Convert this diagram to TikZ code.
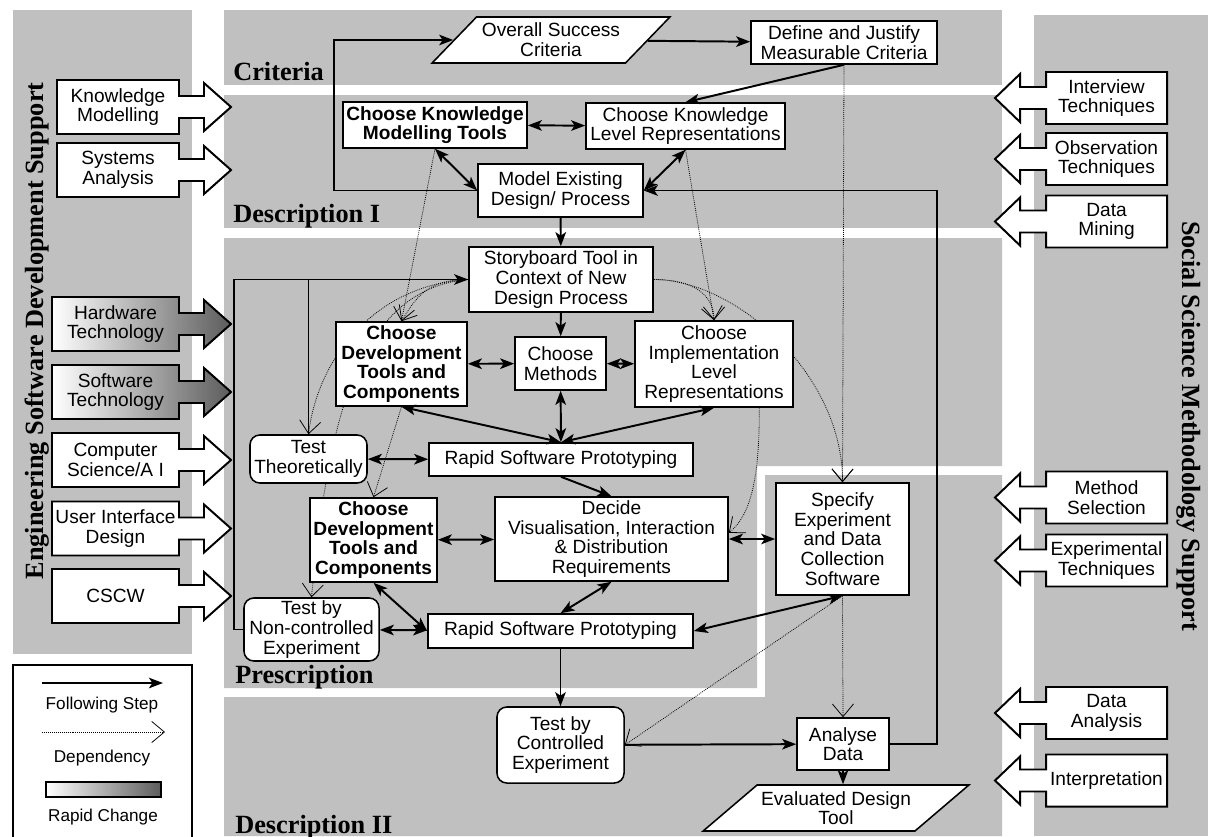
\documentclass[tikz,border=0pt]{standalone}
\usepackage{fontspec}
\setmainfont{Liberation Sans}
\newfontfamily\titlefont{Liberation Serif}
\usepackage{xcolor}
\usetikzlibrary{arrows.meta, shapes.geometric}
\definecolor{panelgray}{RGB}{192,192,192}
\definecolor{rapidgray}{RGB}{92,92,92}
\pgfdeclarelayer{panels}
\pgfdeclarelayer{deps}
\pgfsetlayers{panels,deps,main}

\begin{document}
\begin{tikzpicture}[
        x=0.025cm, y=-0.025cm,
        font=\fontsize{13.6}{14}\selectfont,
        stepbox/.style={rectangle, draw, fill=white, line width=1.1pt, align=center, inner sep=1pt},
        boldbox/.style={stepbox, font=\fontsize{13.6}{14}\selectfont\bfseries},
        roundbox/.style={stepbox, rounded corners=7pt},
        para/.style={trapezium, trapezium stretches=true, draw, fill=white, line width=1.1pt, align=center, inner sep=1pt},
        panel/.style={fill=panelgray, draw=none},
        paneltitle/.style={font=\titlefont\bfseries\fontsize{18.7}{20}\selectfont, inner sep=0pt},
        sidearrow/.style={draw, line width=1.4pt, line join=miter},
        plainfill/.style={fill=white},
        rapidfill/.style={left color=white, right color=rapidgray},
        sidetext/.style={align=center, inner sep=0pt},
        legtext/.style={font=\fontsize{12.2}{13}\selectfont},
        flow/.style={line width=1.4pt, -{Stealth[length=10pt, width=7.5pt, inset=2.5pt]}},
        twoway/.style={line width=1.4pt, {Stealth[length=10pt, width=7.5pt, inset=2.5pt]}-{Stealth[length=10pt, width=7.5pt, inset=2.5pt]}},
        dep/.style={line width=0.55pt, dash pattern=on 0.6pt off 0.8pt, -{Straight Barb[length=9pt, width=15pt]}}
    ]
        \useasboundingbox (0,0) rectangle (1208,836);

        % Background panels
        \begin{pgfonlayer}{panels}
            \fill[panel] (13,10) rectangle (192,654);
            \fill[panel] (224,10) rectangle (1002,85);
            \fill[panel] (224,95) rectangle (1002,228);
            \fill[panel] (224,238) -- (1002,238) -- (1002,466) -- (757,466) -- (757,688) -- (224,688) -- cycle;
            \fill[panel] (224,697) -- (765,697) -- (765,475) -- (1002,475) -- (1002,836) -- (224,836) -- cycle;
            \fill[panel] (1034,15) rectangle (1208,836);
        \end{pgfonlayer}

        % Panel titles
        \node[paneltitle, anchor=base west] (lblCriteria) at (233,80) {Criteria};
        \node[paneltitle, anchor=base west] (lblDescOne) at (233,222) {Description I};
        \node[paneltitle, anchor=base west] (lblPrescription) at (235,683) {Prescription};
        \node[paneltitle, anchor=base west] (lblDescTwo) at (235,833) {Description II};
        \node[paneltitle, rotate=90, anchor=base] (lblEngineering) at (43,331) {Engineering Software Development Support};
        \node[paneltitle, rotate=-90, anchor=base] (lblSocial) at (1182,426) {Social Science Methodology Support};

        % Criteria and description I
        \node[para, trapezium left angle=41, trapezium right angle=139, minimum width=5.95cm, minimum height=1.15cm] (overall) at (551,40) {Overall Success\\Criteria};
        \node[stepbox, minimum width=4.65cm, minimum height=1.075cm] (define) at (844,42.5) {Define and Justify\\Measurable Criteria};
        \node[boldbox, minimum width=4.6cm, minimum height=1.15cm] (chooseKMT) at (435,125) {Choose Knowledge\\Modelling Tools};
        \node[stepbox, minimum width=4.975cm, minimum height=1.15cm] (levelRep) at (685.5,126) {Choose Knowledge\\Level Representations};
        \node[stepbox, minimum width=4.125cm, minimum height=1.325cm] (model) at (560.5,190.5) {Model Existing\\Design/ Process};

        % Prescription
        \node[stepbox, minimum width=4.6cm, minimum height=1.625cm] (storyboard) at (561,279.5) {Storyboard Tool in\\Context of New\\Design Process};
        \node[boldbox, minimum width=3.275cm, minimum height=2.1cm] (devUp) at (401.5,364) {Choose\\Development\\Tools and\\Components};
        \node[stepbox, minimum width=2.275cm, minimum height=1.325cm] (methods) at (560.5,363.5) {Choose\\Methods};
        \node[stepbox, minimum width=3.95cm, minimum height=2.15cm] (implRep) at (714,364) {Choose\\Implementation\\Level\\Representations};
        \node[roundbox, minimum width=2.925cm, minimum height=1.2cm] (testTheo) at (308.5,459) {Test\\Theoretically};
        \node[stepbox, minimum width=6.6cm, minimum height=0.825cm] (rapidUp) at (561,459.5) {Rapid Software Prototyping};
        \node[stepbox, minimum width=5.825cm, minimum height=2.1cm] (decide) at (611.5,539) {Decide\\Visualisation, Interaction\\\& Distribution\\Requirements};
        \node[boldbox, minimum width=3.175cm, minimum height=2.1cm] (devLow) at (373.5,540) {Choose\\Development\\Tools and\\Components};
        \node[stepbox, minimum width=3.325cm, minimum height=2.8cm] (specify) at (842.5,539) {Specify\\Experiment\\and Data\\Collection\\Software};
        \node[roundbox, minimum width=3.375cm, minimum height=1.575cm] (testNon) at (311.5,629.5) {Test by\\Non-controlled\\Experiment};
        \node[stepbox, minimum width=6.625cm, minimum height=0.85cm] (rapidLow) at (560.5,631) {Rapid Software Prototyping};

        % Description II
        \node[roundbox, minimum width=3.175cm, minimum height=1.9cm] (testCtrl) at (560.5,745) {Test by\\Controlled\\Experiment};
        \node[stepbox, minimum width=2.3cm, minimum height=1.3cm] (analyse) at (843,744) {Analyse\\Data};
        \node[para, trapezium left angle=35, trapezium right angle=145, minimum width=6.65cm, minimum height=1.15cm] (evaluated) at (836,808) {Evaluated Design\\Tool};

        % Dependencies (behind the boxes)
        \begin{pgfonlayer}{deps}
            \draw[dep] (define.south) -- (specify.north);
            \draw[dep] (chooseKMT.south) -- (devUp.north);
            \draw[dep] (levelRep.south) -- (implRep.north);
            \draw[dep] (storyboard.west) .. controls +(-40,0) and +(15,-25) .. (devUp.north);
            \draw[dep] (storyboard.west) .. controls +(-90,5) and +(10,-80) .. (testTheo.north);
            \draw[dep] (storyboard.west) .. controls +(-120,10) and +(15,-150) .. (testNon.north);
            \draw[dep] (devUp.south) -- (devLow.north);
            \draw[dep] (storyboard.east) .. controls +(40,0) and +(0,-25) .. (implRep.north);
            \draw[dep] (storyboard.east) .. controls +(80,0) and +(0,-110) .. (specify.north);
            \draw[dep] (implRep.-44) .. controls +(0,60) and +(25,-20) .. (decide.3);
            \draw[dep] (specify.south) -- (analyse.north);
            \draw[dep] (specify.south) -- (testCtrl.east);
        \end{pgfonlayer}

        % Following steps
        \draw[flow] (model.west) -- ++(-143,0) |- (overall);
        \draw[flow] (overall) -- (define);
        \draw[flow] (define.south) -- (levelRep.north);
        \draw[twoway] (chooseKMT) -- (levelRep);
        \draw[twoway] (chooseKMT.south) -- (model.west);
        \draw[twoway] (levelRep.south) -- (model.east);
        \draw[flow] (model) -- (storyboard);
        \draw[flow] (analyse.east) -- ++(47,0) |- (model.east);
        \draw[flow] (testNon.west) -- ++(-9,0) |- (storyboard.west);
        \draw[line width=1.4pt] (testTheo.north) -- (testTheo.north |- storyboard.west);
        \draw[flow] (storyboard) -- (methods);
        \draw[twoway] (devUp) -- (methods);
        \draw[twoway] (methods) -- (implRep);
        \draw[twoway] (methods) -- (rapidUp);
        \draw[twoway] (devUp.south) -- (rapidUp.north);
        \draw[twoway] (implRep.south) -- (rapidUp.north);
        \draw[twoway] (testTheo) -- (rapidUp);
        \draw[flow] (rapidUp.south) -- (decide.north);
        \draw[twoway] (devLow) -- (decide);
        \draw[twoway] (decide) -- (specify);
        \draw[twoway] (devLow.south) -- (rapidLow.west);
        \draw[twoway] (testNon) -- (rapidLow);
        \draw[twoway] (decide.south) -- (rapidLow.north);
        \draw[twoway] (specify.south) -- (rapidLow.east);
        \draw[flow] (rapidLow) -- (testCtrl);
        \draw[flow] (testCtrl) -- (analyse);
        \draw[flow] (analyse.south) -- (analyse.south |- evaluated.north);

        % Engineering support arrows
        \foreach \nm/\xl/\c/\sty/\txt in {km/57/107/plainfill/{Knowledge\\Modelling},
                sa/57/170/plainfill/{Systems\\Analysis},
                hw/52/324/rapidfill/{Hardware\\Technology},
                sw/52/392/rapidfill/{Software\\Technology},
                cs/52/460/plainfill/{Computer\\Science/A I},
                ui/52/528.5/plainfill/{User Interface\\Design},
                cw/52/596/plainfill/{CSCW}} {
            \draw[sidearrow, \sty] (\xl,\c-27) -- (179,\c-27) -- (179,\c-11) -- (204,\c-11) -- (204,\c-24)
                -- (231,\c) -- (204,\c+24) -- (204,\c+11) -- (179,\c+11) -- (179,\c+27) -- (\xl,\c+27) -- cycle;
            \node[sidetext] (eng-\nm) at ({(\xl+179)/2},\c) {\txt};
        }

        % Social science support arrows
        \foreach \nm/\c/\txt in {it/98/{Interview\\Techniques},
                ot/159/{Observation\\Techniques},
                dm/221.5/{Data\\Mining},
                ms/497.5/{Method\\Selection},
                et/560.5/{Experimental\\Techniques},
                da/713/{Data\\Analysis},
                ip/780.5/{Interpretation}} {
            \draw[sidearrow, plainfill] (1167,\c-26) -- (1046,\c-26) -- (1046,\c-11) -- (1020,\c-11) -- (1020,\c-24)
                -- (995,\c) -- (1020,\c+24) -- (1020,\c+11) -- (1046,\c+11) -- (1046,\c+26) -- (1167,\c+26) -- cycle;
            \node[sidetext] (soc-\nm) at (1106.5,\c) {\txt};
        }

        % Legend
        \draw[fill=white, line width=1.1pt] (13,665) rectangle (192,845);
        \coordinate (legStepA) at (42,683);
        \coordinate (legStepB) at (163,683);
        \draw[flow] (legStepA) -- (legStepB);
        \node[legtext] (legStep) at (102,705) {Following Step};
        \coordinate (legDepA) at (42,732);
        \coordinate (legDepB) at (165,732);
        \draw[dep] (legDepA) -- (legDepB);
        \node[legtext] (legDep) at (102,758) {Dependency};
        \shade[left color=white, right color=rapidgray, draw, line width=0.8pt] (46,782) rectangle (161,797);
        \node[legtext] (legRapid) at (103,817) {Rapid Change};

    \end{tikzpicture}
\end{document}
